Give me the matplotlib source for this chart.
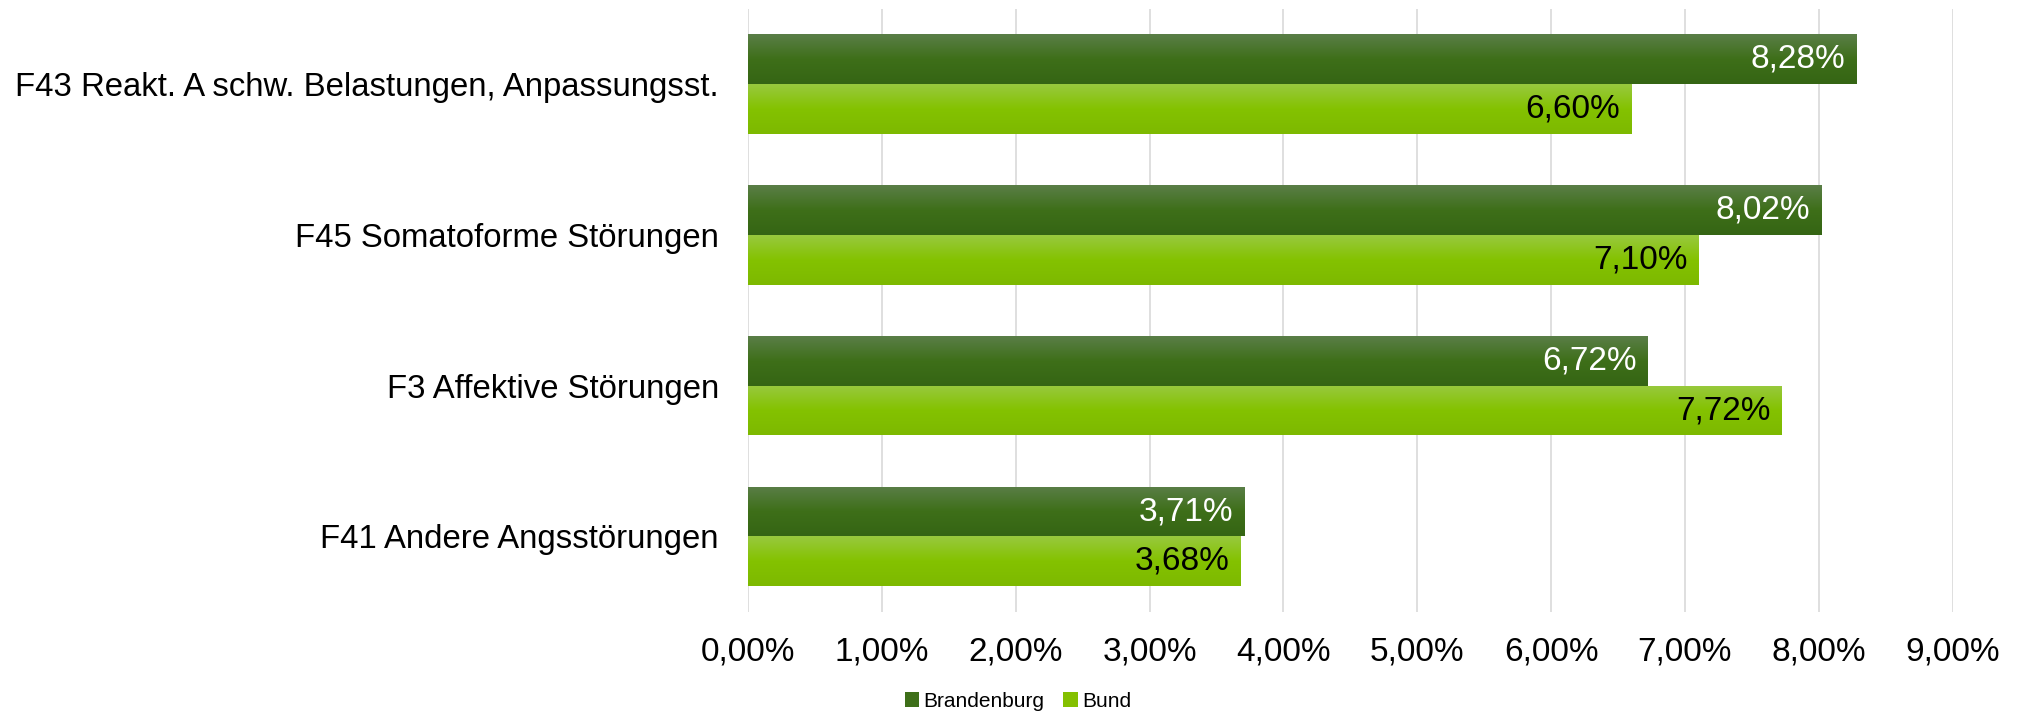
import numpy as np
import matplotlib
matplotlib.use("Agg")
import matplotlib.pyplot as plt
from matplotlib.colors import LinearSegmentedColormap
from matplotlib.patches import Patch

categories = ["F43 Reakt. A schw. Belastungen, Anpassungsst.",
              "F45 Somatoforme Störungen",
              "F3 Affektive Störungen",
              "F41 Andere Angsstörungen"]
brandenburg = [8.28, 8.02, 6.72, 3.71]
bund = [6.60, 7.10, 7.72, 3.68]
series_names = ["Brandenburg", "Bund"]
xticks = [0, 1, 2, 3, 4, 5, 6, 7, 8, 9]

plt.rcParams['font.family'] = ['Liberation Sans', 'DejaVu Sans']

fig = plt.figure(figsize=(20.24, 7.14), dpi=100)
ax = fig.add_axes([0.3696, 0.143, 0.5955, 0.845])

n = len(categories)
y = np.arange(n)
h = 0.33
bars_b = ax.barh(y - h / 2, brandenburg, height=h, color="#3f6d1e", zorder=2)
bars_u = ax.barh(y + h / 2, bund, height=h, color="#84c000", zorder=2)

cm_b = LinearSegmentedColormap.from_list("b", ["#5a7e47", "#3e6f19", "#356514"])
cm_u = LinearSegmentedColormap.from_list("u", ["#98c93e", "#84c200", "#7db900"])
grad = np.linspace(0, 1, 64).reshape(-1, 1)
for bars, cm in ((bars_b, cm_b), (bars_u, cm_u)):
    for bar in bars:
        x0, y0 = bar.get_x(), bar.get_y()
        w, hh = bar.get_width(), bar.get_height()
        im = ax.imshow(grad, cmap=cm, aspect="auto", origin="upper",
                       extent=(x0, x0 + w, y0 + hh, y0), zorder=3,
                       interpolation="bilinear")
        im.set_clip_path(bar)

for bar, v in zip(bars_b, brandenburg):
    ax.annotate(f"{v:.2f}%".replace(".", ","), (v, bar.get_y() + bar.get_height() / 2),
                xytext=(-8, 0), textcoords="offset points", ha="right", va="center",
                fontsize=24, color="white", zorder=5)
for bar, v in zip(bars_u, bund):
    ax.annotate(f"{v:.2f}%".replace(".", ","), (v, bar.get_y() + bar.get_height() / 2),
                xytext=(-8, 0), textcoords="offset points", ha="right", va="center",
                fontsize=24, color="black", zorder=5)

ax.set_xlim(0, 9.005)
ax.set_ylim(n - 0.5, -0.5)
ax.set_xticks(xticks)
ax.set_xticklabels([f"{t:.2f}%".replace(".", ",") for t in xticks], fontsize=24)
ax.set_yticks(y)
ax.set_yticklabels(categories, fontsize=23.7)
ax.tick_params(axis="x", length=0, pad=18)
ax.tick_params(axis="y", length=0, pad=21)
for s in ax.spines.values():
    s.set_visible(False)
ax.grid(axis="x", color="#d9d9d9", linewidth=1.2, zorder=0)
ax.set_axisbelow(True)

handles = [Patch(facecolor="#3e6f19"), Patch(facecolor="#84c000")]
fig.legend(handles, series_names, loc="center", bbox_to_anchor=(0.503, 0.018),
           ncol=2, frameon=False, fontsize=15, handlelength=0.7, handleheight=0.7,
           handletextpad=0.2, columnspacing=0.9)

fig.savefig("out.png", dpi=100)
